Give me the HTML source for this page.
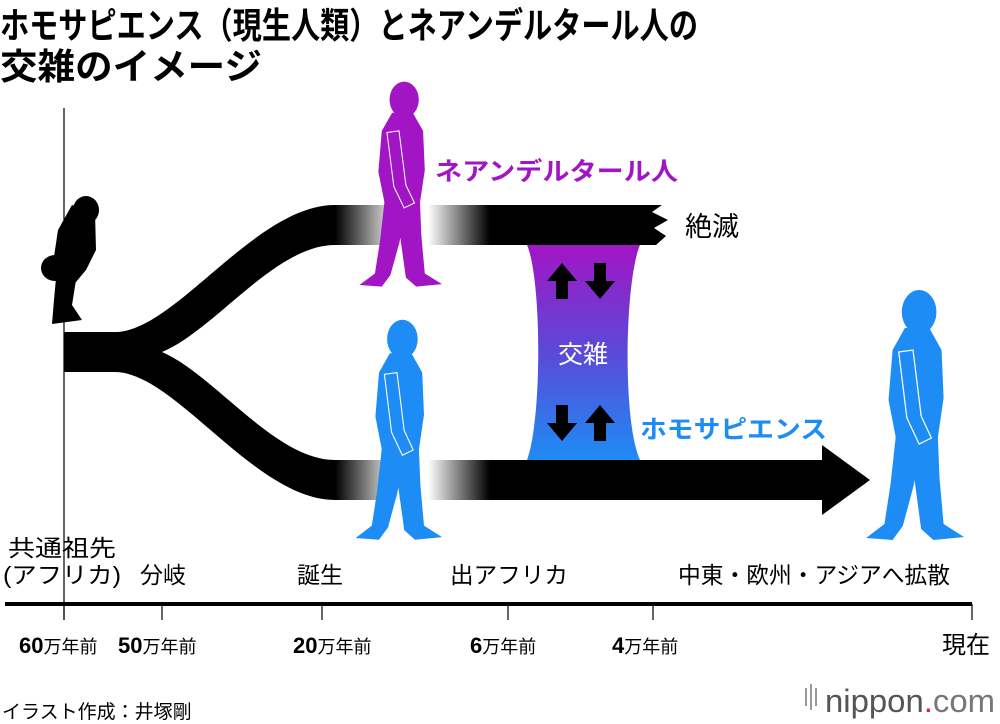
<!DOCTYPE html>
<html><head><meta charset="utf-8"><style>
html,body{margin:0;padding:0;background:#fff;}
svg{display:block;font-family:"Liberation Sans","Noto Sans CJK JP",sans-serif;}
</style></head><body>
<svg width="1000" height="724" viewBox="0 0 1000 724" xmlns="http://www.w3.org/2000/svg">
<defs>
<linearGradient id="fade" x1="0" x2="1" y1="0" y2="0">
<stop offset="0" stop-color="#000"/><stop offset="0.38" stop-color="#eee"/><stop offset="0.6" stop-color="#fff"/><stop offset="1" stop-color="#000"/>
</linearGradient>
<linearGradient id="mix" x1="0" x2="0" y1="0" y2="1">
<stop offset="0" stop-color="#a215c4"/><stop offset="0.5" stop-color="#5a4ad8"/><stop offset="1" stop-color="#1e8cf5"/>
</linearGradient>
<g id="human">
<ellipse cx="56" cy="24" rx="17" ry="22"/>
<path d="M42,40 L66,40 L78,62 L80,110 L74,152 L34,154 L26,112 L30,62 Z"/>
<path d="M34,140 L62,145 L50,200 L40,238 L30,252 L4,250 L22,236 L28,196 Z"/>
<path d="M48,140 L74,140 L76,190 L80,236 L100,249 L70,252 L58,241 L52,196 Z"/>
<path d="M36,64 L50,62 L58,128 L68,150 L56,156 L44,130 Z" stroke="#fff" stroke-width="1.2"/>
</g>
</defs>

<text x="0" y="38" font-size="36" font-weight="bold" textLength="698" lengthAdjust="spacingAndGlyphs">ホモサピエンス（現生人類）とネアンデルタール人の</text>
<text x="0" y="79" font-size="36" font-weight="bold" textLength="262" lengthAdjust="spacingAndGlyphs">交雑のイメージ</text>

<line x1="64" y1="108" x2="64" y2="620" stroke="#000" stroke-width="1.2"/>

<path d="M64,332 L115,332 C175,332 255,205 335,205 L335,245 C275,245 215,330 162,352 C215,375 275,460 335,460 L335,500 C255,500 175,372 115,372 L64,372Z" fill="#000"/>
<rect x="335" y="205" width="155" height="40" fill="url(#fade)"/>
<rect x="335" y="460" width="155" height="40" fill="url(#fade)"/>
<path d="M490,205 L662,205 L652,212 L668,220 L654,228 L666,236 L656,245 L490,245Z" fill="#000"/>
<path d="M490,460 L822,460 L822,445 L870,480 L822,515 L822,500 L490,500Z" fill="#000"/>

<path d="M527,245 L640,245 C625,280 622,420 640,460 L527,460 C542,420 542,280 527,245Z" fill="url(#mix)"/>
<g fill="#000">
<path d="M562,263 L577,281 L568,281 L568,299 L556,299 L556,281 L547,281Z"/>
<path d="M600,299 L615,281 L606,281 L606,263 L594,263 L594,281 L585,281Z"/>
<path d="M562,441 L577,423 L568,423 L568,405 L556,405 L556,423 L547,423Z"/>
<path d="M600,405 L615,423 L606,423 L606,441 L594,441 L594,423 L585,423Z"/>
</g>
<text x="583" y="363" font-size="25" fill="#fff" text-anchor="middle">交雑</text>

<use href="#human" fill="#a215c4" transform="translate(356,80) scale(0.86,0.82)"/>
<use href="#human" fill="#1e8cf5" transform="translate(352,318) scale(0.9,0.88)"/>
<use href="#human" fill="#1e8cf5" transform="translate(862,288) scale(1.02,1.0)"/>
<g fill="#000">
<ellipse cx="86" cy="210" rx="13" ry="14"/>
<path d="M72,205 L95,212 L96,250 L86,270 L76,282 L60,282 L52,270 L58,230 Z"/>
<ellipse cx="55" cy="268" rx="14" ry="13"/>
<path d="M56,278 L76,280 L72,305 L82,320 L52,324 L54,300Z"/>
</g>

<text x="435" y="180" font-size="25" font-weight="bold" fill="#a215c4" textLength="243" lengthAdjust="spacingAndGlyphs">ネアンデルタール人</text>
<text x="685" y="236" font-size="27">絶滅</text>
<text x="640" y="438" font-size="25" font-weight="bold" fill="#1e8cf5" textLength="187" lengthAdjust="spacingAndGlyphs">ホモサピエンス</text>

<g font-size="23">
<text x="8" y="556" textLength="108" lengthAdjust="spacingAndGlyphs">共通祖先</text>
<text x="3" y="583" textLength="118" lengthAdjust="spacingAndGlyphs">(アフリカ)</text>
<text x="140" y="583">分岐</text>
<text x="297" y="583">誕生</text>
<text x="450" y="583" textLength="118" lengthAdjust="spacingAndGlyphs">出アフリカ</text>
<text x="678" y="583" textLength="272" lengthAdjust="spacingAndGlyphs">中東・欧州・アジアへ拡散</text>
</g>

<line x1="5" y1="604" x2="972" y2="604" stroke="#000" stroke-width="4"/>
<g stroke="#000" stroke-width="1.2">
<line x1="64" y1="604" x2="64" y2="620"/><line x1="162" y1="604" x2="162" y2="620"/>
<line x1="322" y1="604" x2="322" y2="620"/><line x1="508" y1="604" x2="508" y2="620"/>
<line x1="653" y1="604" x2="653" y2="620"/><line x1="972" y1="604" x2="972" y2="620"/>
</g>
<g font-size="18">
<text x="19" y="653"><tspan font-size="22" font-weight="bold">60</tspan>万年前</text>
<text x="118" y="653"><tspan font-size="22" font-weight="bold">50</tspan>万年前</text>
<text x="293" y="653"><tspan font-size="22" font-weight="bold">20</tspan>万年前</text>
<text x="470" y="653"><tspan font-size="22" font-weight="bold">6</tspan>万年前</text>
<text x="612" y="653"><tspan font-size="22" font-weight="bold">4</tspan>万年前</text>
</g>
<text x="942" y="653" font-size="24">現在</text>

<text x="2" y="718" font-size="19">イラスト作成：井塚剛</text>
<g fill="#999"><rect x="805" y="688" width="2" height="18"/><rect x="810" y="684" width="2" height="26"/><rect x="815" y="688" width="2" height="18"/></g>
<text x="825" y="712" font-size="32" fill="#555" textLength="170" lengthAdjust="spacingAndGlyphs">nippon<tspan fill="#e0242c">.</tspan><tspan fill="#777">com</tspan></text>
</svg>
</body></html>
